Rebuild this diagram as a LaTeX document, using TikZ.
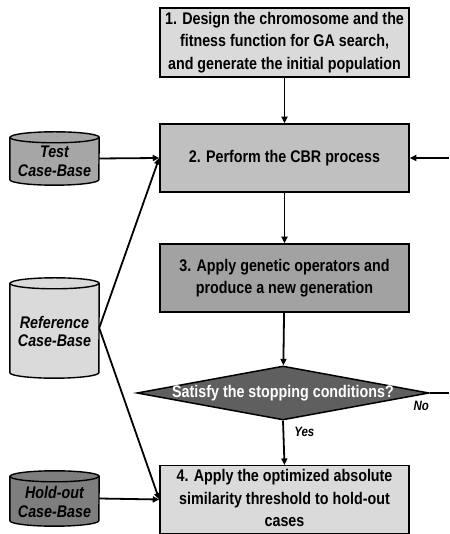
\documentclass[tikz,border=0pt]{standalone}
\usepackage{fontspec}
\setmainfont{Liberation Sans}
\usepackage{graphicx}
\usetikzlibrary{shapes.geometric,arrows.meta,backgrounds}
\definecolor{gLight}{HTML}{DADADA}
\definecolor{gMid}{HTML}{C0C0C0}
\definecolor{gMidDark}{HTML}{A2A2A2}
\definecolor{gTest}{HTML}{A6A6A6}
\definecolor{gHold}{HTML}{7E7E7E}
\definecolor{gDia}{HTML}{5F5F5F}
\newcommand{\stx}[1]{\scalebox{1}[1.18]{\begin{tabular}{@{}c@{}}#1\end{tabular}}}
\newcommand{\drawcyl}[2]{%
  \filldraw[fill=#2, line width=1.4pt]
    ([yshift=-5.5pt]#1.north west) -- ([yshift=5.5pt]#1.south west)
    arc[start angle=180,end angle=360,x radius=44.5pt,y radius=5.5pt]
    -- ([yshift=-5.5pt]#1.north east)
    arc[start angle=0,end angle=180,x radius=44.5pt,y radius=5.5pt] -- cycle;
  \draw[line width=1.4pt] ([yshift=-5.5pt]#1.north west)
    arc[start angle=180,end angle=360,x radius=44.5pt,y radius=5.5pt];}
\begin{document}
\begin{tikzpicture}[x=1pt,y=1pt,
  stepbox/.style={draw, line width=1.5pt, minimum width=249pt, inner sep=0pt,
    font=\fontsize{14.3}{19.1}\selectfont\bfseries},
  flow/.style={line width=1.8pt, -{Triangle[length=6.5pt,width=6pt]}},
  plain/.style={line width=1.8pt},
  cylbox/.style={inner sep=0pt, minimum width=89pt},
  cyltext/.style={font=\fontsize{14.3}{15.7}\selectfont\bfseries\itshape, inner sep=0pt},
  lbl/.style={font=\fontsize{11.5}{13}\selectfont\bfseries\itshape, inner sep=0pt}
]
\useasboundingbox (0,0) rectangle (449,534);

% process boxes
\node[stepbox, fill=gLight, minimum height=69pt] (b1) at (284.5,491.5)
  {\stx{1. Design the chromosome and the\\fitness function for GA search,\\and generate the initial population}};
\node[stepbox, fill=gMid, minimum height=68pt] (b2) at (284.5,376)
  {\stx{2. Perform the CBR process}};
\node[stepbox, fill=gMidDark, minimum height=68pt] (b3) at (284.5,256)
  {\stx{3. Apply genetic operators and\\produce a new generation}};
\node[diamond, draw, line width=1.5pt, fill=gDia, minimum width=292pt, minimum height=54pt,
  inner sep=0pt, aspect=5.4,
  label={[text=white, inner sep=0pt, font=\fontsize{14.3}{19.1}\selectfont\bfseries]center:\stx{Satisfy the stopping conditions?}}]
  (dia) at (283,141) {};
\node[stepbox, fill=gLight, minimum height=67pt] (b4) at (284.5,34.5)
  {\stx{4. Apply the optimized absolute\\similarity threshold to hold-out\\cases}};

% case bases
\node[cylbox, minimum height=53pt,
  label={[cyltext, yshift=-5pt]center:\stx{Test\\Case-Base}}] (test) at (54.5,375.5) {};
\node[cylbox, minimum height=100pt,
  label={[cyltext, yshift=-6pt]center:\stx{Reference\\Case-Base}}] (ref) at (54.5,206) {};
\node[cylbox, minimum height=55pt,
  label={[cyltext, yshift=-6pt]center:\stx{Hold-out\\Case-Base}}] (hold) at (54.5,35.5) {};
\begin{scope}[on background layer]
  \drawcyl{test}{gTest}
  \drawcyl{ref}{gLight}
  \drawcyl{hold}{gHold}
\end{scope}

% loop ends at the right margin
\coordinate (r1) at (449,141);
\coordinate (r2) at (449,376);

% connectors
\draw[flow] (b1) -- (b2);
\draw[flow] (b2) -- (b3);
\draw[flow] (b3) -- (dia);
\draw[flow] (dia.south) -- (b4.north)
  node[lbl, pos=0.26, anchor=west, xshift=10pt] (yes) {\scalebox{1}[1.18]{Yes}};
\draw[plain] (dia.east) -- (r1)
  node[lbl, at start, anchor=north east, yshift=-7pt] (no) {\scalebox{1}[1.18]{No}};
\draw[flow] (r2) -- (b2.east);
\draw[flow] (test.east) -- (b2.west);
\draw[flow] (ref.east) -- (b2.west);
\draw[flow] (ref.east) -- (b4.west);
\draw[flow] (hold.east) -- (b4.west);
\end{tikzpicture}
\end{document}
